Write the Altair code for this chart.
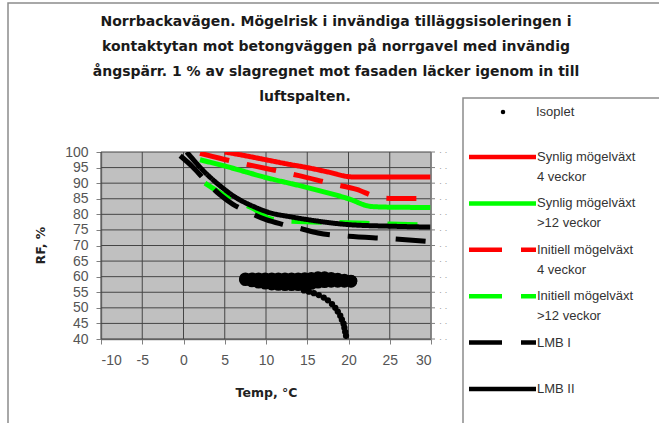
import altair as alt
import pandas as pd

# Mould-risk limit curves: temperature (°C) against relative humidity (%)
syn4_t = [5.0, 7.5, 10, 12.5, 15, 17.5, 20.5, 25, 30]
syn4_rf = [100, 98.8, 97.5, 96.2, 95.0, 93.6, 92.0, 92.0, 92.0]
syn12_t = [2, 5, 10, 15, 20, 22.8, 25, 30]
syn12_rf = [97.5, 95.5, 91.8, 88.6, 85.0, 82.5, 82.3, 82.2]
init4_t = [2, 6, 10, 14, 18, 21, 23.5, 25, 30]
init4_rf = [99.6, 97.0, 94.7, 92.4, 89.8, 88.0, 85.5, 85.1, 85.1]
init12_t = [2.6, 5.2, 8.4, 10.5, 13, 20, 25, 30]
init12_rf = [90.0, 85.7, 81.9, 78.6, 77.8, 77.3, 76.9, 76.6]
lmb1_t = [-0.4, 1, 2.6, 4.4, 6, 7.8, 10, 12, 14.1, 16.3, 20, 25, 30]
lmb1_rf = [98.8, 95.5, 91.0, 86.3, 83.2, 80.8, 78.3, 76.8, 75.5, 74.0, 73.0, 72.2, 71.2]
lmb2_t = [0.4, 2.4, 4.5, 6.4, 8.5, 10.5, 13, 15.3, 20, 25, 30]
lmb2_rf = [100, 94.0, 89.0, 85.3, 82.5, 80.5, 79.2, 78.2, 76.7, 76.2, 75.9]

# Isoplet: measured conditions in the insulation (dense band + cooling tail)
iso_band_t = [7.5, 8.3, 9.1, 9.9, 10.7, 11.5, 12.3, 13.1, 13.9, 14.7, 15.5, 16.3, 17.1, 17.9, 18.7, 19.5, 20.3,
              7.5, 8.3, 9.1, 9.9, 10.7, 11.5, 12.3, 13.1, 13.9, 14.7, 15.5, 16.3, 17.1, 17.9, 18.7, 19.5, 20.3]
iso_band_rf = [59.3, 59.3, 59.3, 59.3, 59.3, 59.3, 59.3, 59.3, 59.3, 59.4, 59.5, 59.7, 59.7, 59.5, 59.2, 58.9, 58.6,
               59.0, 58.6, 58.2, 57.9, 57.6, 57.5, 57.4, 57.4, 57.4, 57.5, 57.8, 58.2, 58.4, 58.5, 58.5, 58.5, 58.5]
iso_tail_t = [14.6, 15.2, 15.8, 16.4, 17.0, 17.5, 18.0, 18.4, 18.7, 19.0, 19.2, 19.4, 19.5, 19.6, 19.7]
iso_tail_rf = [55.6, 55.2, 54.7, 54.1, 53.3, 52.4, 51.2, 50.0, 48.8, 47.5, 46.2, 44.9, 43.6, 42.3, 41.0]

# axis tick values
x_ticks = [-10, -5, 0, 5, 10, 15, 20, 25, 30]
y_ticks = [40, 45, 50, 55, 60, 65, 70, 75, 80, 85, 90, 95, 100]

series_names = [
    "Synlig mögelväxt 4 veckor",
    "Synlig mögelväxt >12 veckor",
    "Initiell mögelväxt 4 veckor",
    "Initiell mögelväxt >12 veckor",
    "LMB I",
    "LMB II",
]
series_data = [
    (syn4_t, syn4_rf), (syn12_t, syn12_rf), (init4_t, init4_rf),
    (init12_t, init12_rf), (lmb1_t, lmb1_rf), (lmb2_t, lmb2_rf),
]
series_colors = ["#ff0000", "#00ff00", "#ff0000", "#00ff00", "#000000", "#000000"]
series_dash = [[1, 0], [1, 0], [30, 18], [30, 18], [30, 18], [1, 0]]

rows = []
for name, (ts, rfs) in zip(series_names, series_data):
    for i, (t, rf) in enumerate(zip(ts, rfs)):
        rows.append({"serie": name, "temp": t, "rf": rf, "i": i})
curves = pd.DataFrame(rows)

iso_band = pd.DataFrame({"temp": iso_band_t, "rf": iso_band_rf})
iso_tail = pd.DataFrame({"temp": iso_tail_t, "rf": iso_tail_rf})
yticks_df = pd.DataFrame({"rf": y_ticks})
xticks_df = pd.DataFrame({"temp": x_ticks})

FONT = "Liberation Sans"
BOLD = "DejaVu Sans"
GRID = "#454545"
x_scale = alt.Scale(domain=[-10, 30], nice=False, zero=False)
y_scale = alt.Scale(domain=[40, 100], nice=False, zero=False)

x_axis = alt.Axis(
    values=x_ticks, grid=False,
    domainColor="#808080", domainWidth=1.5, tickColor="#808080", tickSize=5,
    labelFont=FONT, labelFontSize=14, labelColor="#555555", labelPadding=9,
    labelExpr="'' + datum.value", labelOverlap=False,
    title="Temp, °C", titleFont=BOLD, titleFontSize=12.5, titleFontWeight="bold",
    titleColor="#222222", titleY=53, titleBaseline="middle",
)
y_axis = alt.Axis(
    values=y_ticks, grid=False,
    domainColor="#808080", domainWidth=1.5, tickColor="#808080", tickSize=5,
    labelFont=FONT, labelFontSize=14, labelColor="#555555", labelPadding=8,
    labelOverlap=False, labelBound=False,
    title="RF, %", titleFont=BOLD, titleFontSize=12.5, titleFontWeight="bold",
    titleColor="#222222", titleX=-61, titleY=93, titleAngle=270,
    titleAlign="center", titleBaseline="middle",
)


def X(field="temp:Q"):
    return alt.X(field, scale=x_scale, axis=x_axis)


def Y(field="rf:Q"):
    return alt.Y(field, scale=y_scale, axis=y_axis)


one = alt.Data(values=[{}])

# whole-chart frame and legend box
frame = alt.Chart(one).mark_rect(fillOpacity=0, stroke="#8c8c8c", strokeWidth=1.5).encode(
    x=alt.value(-93), x2=alt.value(700), y=alt.value(-149), y2=alt.value(400))
legend_box = alt.Chart(one).mark_rect(fill="white", stroke="#8c8c8c", strokeWidth=1.5).encode(
    x=alt.value(362), x2=alt.value(700), y=alt.value(-54), y2=alt.value(400))

# plot-area gridlines
grid_v = alt.Chart(xticks_df).mark_rule(color=GRID, strokeWidth=1).encode(
    x=X(), y=alt.value(0), y2=alt.value(187))
grid_h = alt.Chart(yticks_df).mark_rule(color=GRID, strokeWidth=1).encode(
    y=Y(), x=alt.value(0), x2=alt.value(330))

lines = alt.Chart(curves).mark_line(strokeWidth=5, clip=True, interpolate="monotone").encode(
    x=X(), y=Y(),
    color=alt.Color("serie:N", scale=alt.Scale(domain=series_names, range=series_colors), legend=None),
    strokeDash=alt.StrokeDash("serie:N", scale=alt.Scale(domain=series_names, range=series_dash), legend=None),
    detail="serie:N",
    order="i:Q",
)

band = alt.Chart(iso_band).mark_circle(size=160, color="black", opacity=1, clip=True).encode(
    x=X(), y=Y())
tail = alt.Chart(iso_tail).mark_circle(size=40, color="black", opacity=1, clip=True).encode(
    x=X(), y=Y())

# secondary right-hand axis: line, outward ticks and dotted labels
right_line = alt.Chart(one).mark_rule(color="#808080", strokeWidth=1.5).encode(
    x=alt.value(330), y=alt.value(0), y2=alt.value(187))
right_ticks = alt.Chart(yticks_df).mark_rule(color="#808080", strokeWidth=1).encode(
    y=Y(), x=alt.value(330), x2=alt.value(334))
right_labels = alt.Chart(yticks_df).mark_text(fontSize=9, color="#9a9a9a", align="left",
                                               baseline="middle").encode(
    y=Y(), x=alt.value(338), text=alt.value("· ·"))

# title lines
title_lines = [
    "Norrbackavägen. Mögelrisk i invändiga tilläggsisoleringen i",
    "kontaktytan mot betongväggen på norrgavel med invändig",
    "ångspärr. 1 % av slagregnet mot fasaden läcker igenom in till",
    "luftspalten.",
]
title_layers = []
for k, line in enumerate(title_lines):
    cx = 235 if k < 3 else 204
    title_layers.append(
        alt.Chart(one).mark_text(font=BOLD, fontSize=14, fontWeight="bold", color="#1a1a1a",
                                 align="center", baseline="middle").encode(
            x=alt.value(cx), y=alt.value(-130 + 25 * k), text=alt.value(line)))

# legend entries
legend_layers = []
legend_layers.append(alt.Chart(one).mark_point(filled=True, size=20, color="black", opacity=1).encode(
    x=alt.value(402), y=alt.value(-40)))
legend_layers.append(alt.Chart(one).mark_text(font=FONT, fontSize=13, color="#333333", align="left",
                                              baseline="middle").encode(
    x=alt.value(435), y=alt.value(-40), text=alt.value("Isoplet")))
legend_text = [
    ["Synlig mögelväxt", "4 veckor"],
    ["Synlig mögelväxt", ">12 veckor"],
    ["Initiell mögelväxt", "4 veckor"],
    ["Initiell mögelväxt", ">12 veckor"],
    ["LMB I"],
    ["LMB II"],
]
for k, name in enumerate(series_names):
    yy = 5 + 46.4 * k
    dash = [33, 19] if series_dash[k][1] else [1, 0]
    legend_layers.append(alt.Chart(one).mark_rule(strokeWidth=4.5, color=series_colors[k],
                                                  strokeDash=dash).encode(
        x=alt.value(368), x2=alt.value(435), y=alt.value(yy)))
    for j, txt in enumerate(legend_text[k]):
        legend_layers.append(alt.Chart(one).mark_text(font=FONT, fontSize=13, color="#333333",
                                                      align="left", baseline="middle").encode(
            x=alt.value(436), y=alt.value(yy + 20 * j), text=alt.value(txt)))

chart = alt.layer(
    frame, legend_box, grid_v, grid_h, lines, band, tail, right_line, right_ticks, right_labels,
    *title_layers, *legend_layers,
).properties(
    width=330, height=187, background="white",
    padding={"left": 101, "top": 152, "right": 228, "bottom": 84},
    autosize=alt.AutoSizeParams(type="none"),
).configure_view(fill="#c0c0c0", stroke=None)

chart.save("out.html", embed_options={"renderer": "svg", "actions": False})
